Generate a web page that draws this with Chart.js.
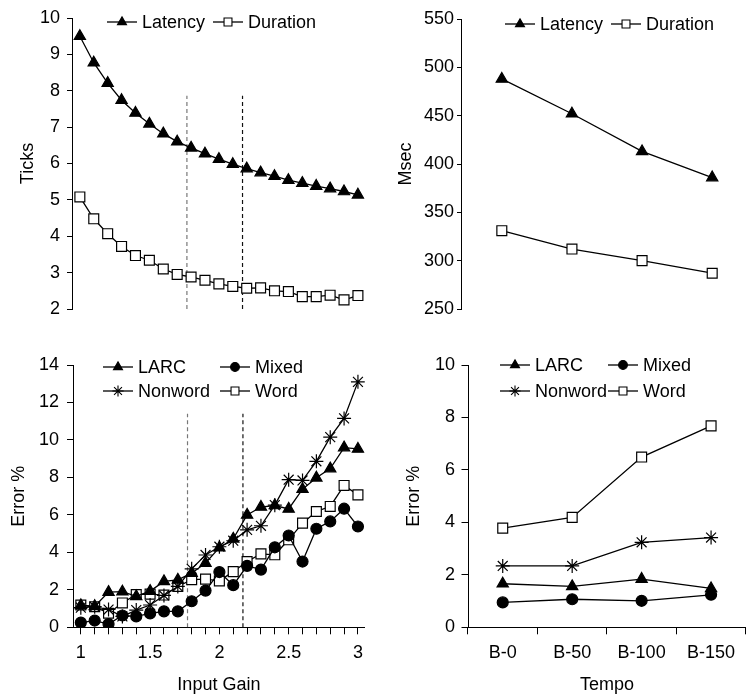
<!DOCTYPE html>
<html lang="en">
<head>
<meta charset="UTF-8">
<title>Latency, duration and error by input gain and tempo</title>
<script src="https://cdn.jsdelivr.net/npm/chart.js@4.4.1/dist/chart.umd.min.js"></script>
<style>
  html, body { margin: 0; padding: 0; background: #fff; overflow: hidden; }
  #wrap { position: relative; width: 746px; height: 695px; overflow: hidden; background: #fff; }
  #wrap canvas { position: absolute; }
</style>
</head>
<body>
<div id="wrap">
  <canvas id="gainTiming" width="373" height="330" style="left:0;top:0"></canvas>
  <canvas id="tempoTiming" width="373" height="330" style="left:373px;top:0"></canvas>
  <canvas id="gainError" width="373" height="360" style="left:0;top:340px"></canvas>
  <canvas id="tempoError" width="381" height="360" style="left:373px;top:340px"></canvas>
</div>
<script>
// ---- data ----
const gain = [1.0, 1.1, 1.2, 1.3, 1.4, 1.5, 1.6, 1.7, 1.8, 1.9, 2.0,
              2.1, 2.2, 2.3, 2.4, 2.5, 2.6, 2.7, 2.8, 2.9, 3.0];
const latencyTicks  = [9.50, 8.77, 8.21, 7.74, 7.39, 7.09, 6.82, 6.60, 6.43, 6.27, 6.12,
                       5.98, 5.86, 5.75, 5.65, 5.54, 5.46, 5.38, 5.31, 5.23, 5.14];
const durationTicks = [5.08, 4.48, 4.07, 3.72, 3.47, 3.34, 3.10, 2.95, 2.88, 2.79, 2.69,
                       2.62, 2.57, 2.58, 2.50, 2.48, 2.34, 2.34, 2.38, 2.25, 2.37];

const larcByGain    = [1.17, 1.12, 1.88, 1.90, 1.65, 1.93, 2.45, 2.53, 2.89, 3.43, 4.25,
                       4.72, 6.00, 6.42, 6.50, 6.32, 7.37, 7.98, 8.47, 9.59, 9.52];
const mixedByGain   = [0.25, 0.36, 0.17, 0.63, 0.58, 0.74, 0.85, 0.85, 1.39, 1.96, 2.95,
                       2.25, 3.28, 3.08, 4.27, 4.90, 3.51, 5.26, 5.65, 6.33, 5.38];
const nonwordByGain = [1.05, 1.10, 0.95, 0.58, 0.92, 1.19, 1.70, 2.18, 3.12, 3.86, 4.30,
                       4.62, 5.20, 5.42, 6.52, 7.88, 7.84, 8.86, 10.15, 11.15, 13.10];
const wordByGain    = [1.19, 1.10, 0.75, 1.30, 1.75, 1.77, 1.72, 2.18, 2.54, 2.57, 2.48,
                       2.97, 3.51, 3.92, 3.87, 4.67, 5.56, 6.18, 6.45, 7.57, 7.07];

// dashed reference lines on the gain axis and how high they reach
const gainMarks = [1.77, 2.17];
const markTopTicks = 7.86;
const markTopError = 11.4;

const tempo = ['B-0', 'B-50', 'B-100', 'B-150'];
const latencyMsec  = [488, 452, 413, 386];
const durationMsec = [331, 312, 300, 287];
const larcByTempo    = [1.66, 1.56, 1.84, 1.48];
const mixedByTempo   = [0.95, 1.07, 1.01, 1.24];
const nonwordByTempo = [2.34, 2.34, 3.24, 3.42];
const wordByTempo    = [3.78, 4.19, 6.49, 7.68];

// ---- styling ----
const FONT = '"Liberation Sans", Arial, Helvetica, sans-serif';
Chart.defaults.font.family = FONT;
Chart.defaults.font.size = 18;
Chart.defaults.color = '#000';

const marker = {
  triangle: { pointStyle: 'triangle', pointRadius: 6.5, pointBackgroundColor: '#000', pointBorderColor: '#000' },
  square:   { pointStyle: 'rect', pointRadius: 7, pointBackgroundColor: '#fff', pointBorderColor: '#000' },
  circle:   { pointStyle: 'circle', pointRadius: 5.5, pointBackgroundColor: '#000', pointBorderColor: '#000' },
  star:     { pointStyle: 'star', pointRadius: 7, pointBackgroundColor: '#000', pointBorderColor: '#000' }
};

function series(label, xs, ys, style) {
  return Object.assign({
    label,
    data: xs.map((x, i) => ({ x, y: ys[i] })),
    borderColor: '#000',
    borderWidth: 1.3,
    pointBorderWidth: 1.2,
    tension: 0,
    order: 1
  }, marker[style]);
}

function dashed(x, y0, y1, color) {
  return {
    label: '',
    inLegend: false,
    data: [{ x, y: y0 }, { x, y: y1 }],
    borderColor: color,
    borderWidth: 1.2,
    borderDash: [4, 3],
    pointRadius: 0,
    order: 2
  };
}

// legend: short line with the marker in its middle, then the label
const lineLegend = {
  id: 'lineLegend',
  afterDraw(chart, args, opts) {
    const ctx = chart.ctx;
    const items = chart.data.datasets.filter(d => d.inLegend !== false);
    ctx.save();
    ctx.font = '18px ' + FONT;
    ctx.textBaseline = 'middle';
    ctx.textAlign = 'left';
    items.forEach((ds, i) => {
      const [x, y] = opts.positions[i];
      ctx.strokeStyle = '#000';
      ctx.lineWidth = 1.3;
      ctx.beginPath();
      ctx.moveTo(x, y);
      ctx.lineTo(x + 30, y);
      ctx.stroke();
      ctx.fillStyle = ds.pointBackgroundColor;
      ctx.strokeStyle = ds.pointBorderColor;
      ctx.lineWidth = 1.1;
      Chart.helpers.drawPoint(ctx, {
        pointStyle: ds.pointStyle,
        radius: ds.pointRadius * 0.8,
        rotation: 0,
        borderWidth: 1.1
      }, x + 15, y);
      ctx.fillStyle = '#000';
      ctx.fillText(ds.label, x + 35, y + 1);
    });
    ctx.restore();
  }
};

function yAxis(min, max, step, title, width, tickLen, pad, titlePad) {
  return {
    type: 'linear',
    min, max,
    afterFit(scale) { scale.width = width; },
    border: { display: true, color: '#000', width: 1 },
    grid: { drawOnChartArea: false, drawTicks: true, tickLength: tickLen, color: '#000' },
    ticks: { stepSize: step, padding: pad, color: '#000', font: { size: 18 } },
    title: { display: true, text: title, color: '#000', font: { size: 18 }, padding: { top: titlePad, bottom: 0 } }
  };
}

function baseOptions(padding, scales, positions) {
  return {
    responsive: false,
    animation: false,
    devicePixelRatio: 1,
    layout: { padding },
    scales,
    plugins: {
      legend: { display: false },
      tooltip: { enabled: false },
      lineLegend: { positions }
    }
  };
}

// gain axis: 1.0 sits 8px right of the y axis, 141.5px per unit
const gainMin = 0.9435, gainMax = 3.0495;

// ---- top left: ticks vs input gain ----
new Chart(document.getElementById('gainTiming'), {
  type: 'line',
  data: {
    datasets: [
      series('Latency', gain, latencyTicks, 'triangle'),
      series('Duration', gain, durationTicks, 'square'),
      dashed(gainMarks[0], 2, markTopTicks, '#777'),
      dashed(gainMarks[1], 2, markTopTicks, '#111')
    ]
  },
  options: baseOptions({ top: 18, bottom: 21, left: 0, right: 3 }, {
    x: { type: 'linear', min: gainMin, max: gainMax, display: false },
    y: yAxis(2, 10, 1, 'Ticks', 72, 5, 7, 17)
  }, [[107, 22], [213, 22]]),
  plugins: [lineLegend]
});

// ---- top right: msec vs tempo ----
const tempoIdx = tempo.map((t, i) => i);
new Chart(document.getElementById('tempoTiming'), {
  type: 'line',
  data: {
    labels: tempo,
    datasets: [
      series('Latency', tempoIdx, latencyMsec, 'triangle'),
      series('Duration', tempoIdx, durationMsec, 'square')
    ]
  },
  options: baseOptions({ top: 19, bottom: 21, left: 0, right: 0 }, {
    x: { type: 'linear', min: -0.582, max: 3.365, display: false },
    y: yAxis(250, 550, 50, 'Msec', 88, 4, 3, 22)
  }, [[132, 24], [238, 24]]),
  plugins: [lineLegend]
});

// ---- bottom left: error vs input gain ----
new Chart(document.getElementById('gainError'), {
  type: 'line',
  data: {
    datasets: [
      series('LARC', gain, larcByGain, 'triangle'),
      series('Mixed', gain, mixedByGain, 'circle'),
      series('Nonword', gain, nonwordByGain, 'star'),
      series('Word', gain, wordByGain, 'square'),
      dashed(gainMarks[0], 0, markTopError, '#777'),
      dashed(gainMarks[1], 0, markTopError, '#111')
    ]
  },
  options: baseOptions({ top: 25, bottom: 0, left: 0, right: 3 }, {
    x: {
      type: 'linear',
      min: gainMin, max: gainMax,
      afterFit(scale) { scale.height = 72.7; },
      border: { display: true, color: '#000', width: 1 },
      grid: { drawOnChartArea: false, drawTicks: true, tickLength: 7, color: '#000' },
      ticks: {
        stepSize: 0.1,
        includeBounds: false,
        autoSkip: false,
        maxRotation: 0,
        padding: 8,
        color: '#000',
        callback: v => Math.abs(v * 2 - Math.round(v * 2)) < 1e-6 ? String(Math.round(v * 2) / 2) : ''
      },
      title: { display: true, text: 'Input Gain', color: '#000', font: { size: 18 }, padding: { top: 0, bottom: 4.5 } }
    },
    y: yAxis(0, 14, 2, 'Error %', 73, 6, 8, 8)
  }, [[103, 27], [220, 27], [103, 51], [220, 51]]),
  plugins: [lineLegend]
});

// ---- bottom right: error vs tempo ----
new Chart(document.getElementById('tempoError'), {
  type: 'line',
  data: {
    labels: tempo,
    datasets: [
      series('LARC', tempo, larcByTempo, 'triangle'),
      series('Mixed', tempo, mixedByTempo, 'circle'),
      series('Nonword', tempo, nonwordByTempo, 'star'),
      series('Word', tempo, wordByTempo, 'square')
    ]
  },
  options: baseOptions({ top: 25, bottom: 0, left: 0, right: 0 }, {
    x: {
      type: 'category',
      offset: true,
      afterFit(scale) { scale.height = 72.7; },
      border: { display: true, color: '#000', width: 1 },
      grid: { offset: true, drawOnChartArea: false, drawTicks: true, tickLength: 7, color: '#000' },
      ticks: { padding: 8, maxRotation: 0, autoSkip: false, color: '#000' },
      title: { display: true, text: 'Tempo', color: '#000', font: { size: 18 }, padding: { top: 0, bottom: 4.5 } }
    },
    y: yAxis(0, 10, 2, 'Error %', 95, 6.5, 6.5, 30)
  }, [[127, 25], [235, 25], [127, 51], [235, 51]]),
  plugins: [lineLegend]
});
</script>
</body>
</html>
